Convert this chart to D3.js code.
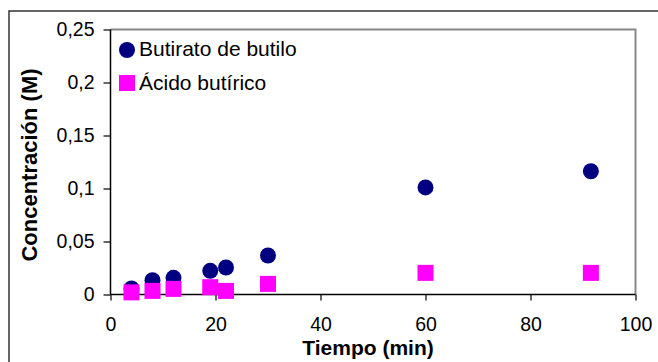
<!DOCTYPE html>
<html>
<head>
<meta charset="utf-8">
<script src="https://cdn.jsdelivr.net/npm/d3@7"></script>
<style>
  body { margin: 0; background: #fff; }
  text { font-family: "Liberation Sans", Arial, sans-serif; }
</style>
</head>
<body>
<script>
// data
var tiempo = [4, 8, 12, 19, 22, 30, 60, 91.5];
var butirato = [0.0057, 0.0135, 0.0157, 0.0223, 0.0255, 0.0368, 0.101, 0.1163];
var acido = [0.002, 0.0034, 0.0053, 0.0069, 0.0034, 0.010, 0.0204, 0.0204];
var xTicks = [0, 20, 40, 60, 80, 100];
var yTicks = [0, 0.05, 0.1, 0.15, 0.2, 0.25];
var series = ['Butirato de butilo', 'Ácido butírico'];

var svg = d3.select("body")
  .append("svg")
  .attr("width", 658)
  .attr("height", 362);

// outer chart border (only top/left visible)
svg.append('rect')
  .attr('x', 9).attr('y', 11)
  .attr('width', 700).attr('height', 400)
  .attr('fill', 'none')
  .attr('stroke', '#333')
  .attr('stroke-width', 1.5);

var x = d3.scaleLinear().domain([0, 100]).range([110.5, 635.5]);
var y = d3.scaleLinear().domain([0, 0.25]).range([294.5, 29.5]);

var fmt = function (d) { return String(d).replace('.', ','); };

// plot area frame, gray on top and right
svg.append('path')
  .attr('d', 'M' + x(0) + ',' + y(0.25) + 'H' + x(100) + 'V' + y(0))
  .attr('fill', 'none')
  .attr('stroke', '#888')
  .attr('stroke-width', 2);

var yAxis = svg.append('g')
  .attr('transform', 'translate(' + x(0) + ',0)')
  .call(d3.axisLeft(y).tickValues(yTicks).tickFormat(fmt).tickSize(7).tickPadding(9));

var xAxis = svg.append('g')
  .attr('transform', 'translate(0,' + y(0) + ')')
  .call(d3.axisBottom(x).tickValues(xTicks).tickFormat(fmt).tickSize(6).tickPadding(17));

[yAxis, xAxis].forEach(function (a) {
  a.select('.domain').attr('stroke', '#000').attr('stroke-width', 1.5);
  a.selectAll('.tick line').attr('stroke', '#000').attr('stroke-width', 1.2);
  a.selectAll('.tick text')
    .attr('fill', '#000')
    .style('font-size', '19.5px')
    .style('font-family', '"Liberation Sans", Arial, sans-serif');
});
xAxis.select('.domain').attr('d', 'M' + x(0) + ',0H' + x(100));
yAxis.select('.domain').attr('d', 'M0,' + y(0) + 'V' + y(0.25));

// points
svg.append('g')
  .selectAll('circle')
  .data(tiempo)
  .enter()
  .append('circle')
  .attr('cx', function (d) { return x(d); })
  .attr('cy', function (d, i) { return y(butirato[i]); })
  .attr('r', 8)
  .attr('fill', '#000080');

svg.append('g')
  .selectAll('rect')
  .data(tiempo)
  .enter()
  .append('rect')
  .attr('x', function (d) { return x(d) - 8; })
  .attr('y', function (d, i) { return y(acido[i]) - 8; })
  .attr('width', 16)
  .attr('height', 16)
  .attr('fill', '#ff00ff');

// axis titles
svg.append('text')
  .attr('x', 368).attr('y', 355)
  .attr('text-anchor', 'middle')
  .style('font-size', '21px')
  .style('font-weight', 'bold')
  .text('Tiempo (min)');

svg.append('text')
  .attr('transform', 'translate(37,165) rotate(-90)')
  .attr('text-anchor', 'middle')
  .style('font-size', '22px')
  .style('font-weight', 'bold')
  .text('Concentración (M)');

// legend
var legend = svg.append('g').attr('class', 'legend');
legend.append('circle')
  .attr('cx', 127).attr('cy', 50).attr('r', 8)
  .attr('fill', '#000080');
legend.append('rect')
  .attr('x', 119).attr('y', 75).attr('width', 16).attr('height', 16)
  .attr('fill', '#ff00ff');
legend.selectAll('text')
  .data(series)
  .enter()
  .append('text')
  .attr('x', 139)
  .attr('y', function (d, i) { return 56 + 33.5 * i; })
  .style('font-size', '21px')
  .text(function (d) { return d; });
</script>
</body>
</html>
